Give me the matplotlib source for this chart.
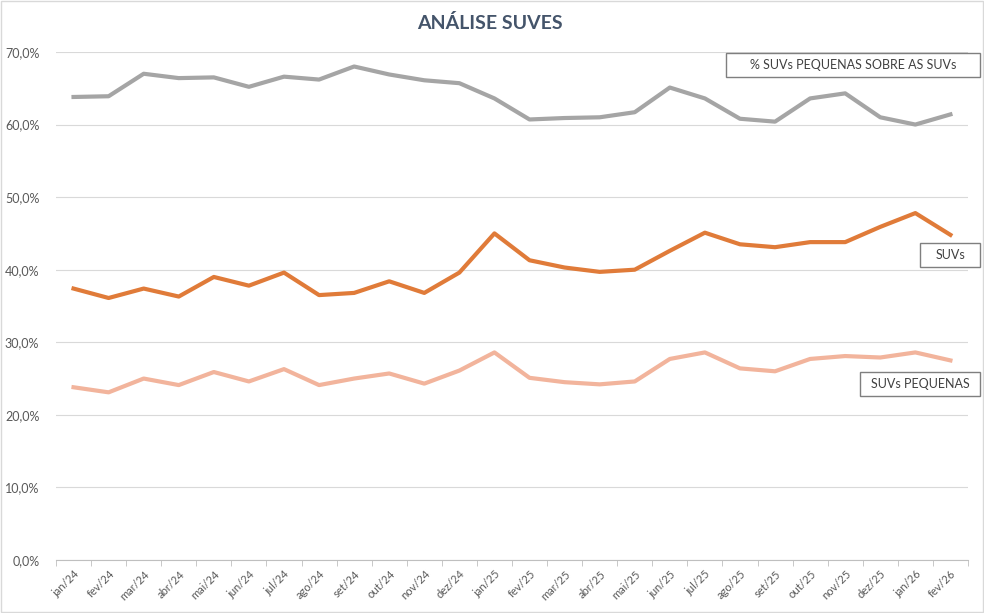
import matplotlib
matplotlib.use("Agg")
import matplotlib.pyplot as plt
from matplotlib.ticker import FuncFormatter
from matplotlib.patches import Rectangle

plt.rcParams['font.family'] = ['Lato', 'DejaVu Sans']

months = ["jan/24", "fev/24", "mar/24", "abr/24", "mai/24", "jun/24", "jul/24", "ago/24",
          "set/24", "out/24", "nov/24", "dez/24", "jan/25", "fev/25", "mar/25", "abr/25",
          "mai/25", "jun/25", "jul/25", "ago/25", "set/25", "out/25", "nov/25", "dez/25",
          "jan/26", "fev/26"]

pct_pequenas_sobre_suvs = [63.8, 63.9, 67.0, 66.4, 66.5, 65.2, 66.6, 66.2, 68.0, 66.9, 66.1, 65.7,
                           63.6, 60.7, 60.9, 61.0, 61.7, 65.1, 63.6, 60.8, 60.4, 63.6, 64.3, 61.0,
                           60.0, 61.4]
suvs = [37.4, 36.1, 37.4, 36.3, 39.0, 37.8, 39.6, 36.5, 36.8, 38.4, 36.8, 39.6,
        45.0, 41.3, 40.3, 39.7, 40.0, 42.6, 45.1, 43.5, 43.1, 43.8, 43.8, 45.9,
        47.8, 44.8]
suvs_pequenas = [23.8, 23.1, 25.0, 24.1, 25.9, 24.6, 26.3, 24.1, 25.0, 25.7, 24.3, 26.1,
                 28.6, 25.1, 24.5, 24.2, 24.6, 27.7, 28.6, 26.4, 26.0, 27.7, 28.1, 27.9,
                 28.6, 27.5]

yticks = [0, 10, 20, 30, 40, 50, 60, 70]

fig = plt.figure(figsize=(9.84, 6.13), dpi=100)
ax = fig.add_axes([0.0569, 0.0865, 0.9268, 0.8287])

x = list(range(len(months)))
ax.plot(x, pct_pequenas_sobre_suvs, color="#A5A5A5", lw=3, solid_joinstyle="round", zorder=3)
ax.plot(x, suvs, color="#E07B39", lw=3, solid_joinstyle="round", zorder=3)
ax.plot(x, suvs_pequenas, color="#F2B49C", lw=3, solid_joinstyle="round", zorder=3)

ax.set_xlim(-0.5, len(months) - 0.5)
ax.set_ylim(0, 70)
ax.set_yticks(yticks)
ax.yaxis.set_major_formatter(FuncFormatter(lambda v, p: f"{v:.1f}".replace(".", ",") + "%"))
ax.grid(axis="y", color="#D9D9D9", lw=0.8, zorder=0)
ax.set_axisbelow(True)

ax.set_xticks(x)
ax.set_xticklabels(months, rotation=45, ha="right", rotation_mode="anchor")
ax.set_xticks([i - 0.5 for i in range(len(months) + 1)], minor=True)
ax.tick_params(axis="x", which="major", length=0, labelsize=8, colors="#595959", pad=6)
ax.tick_params(axis="x", which="minor", length=4, color="#BFBFBF")
ax.tick_params(axis="y", length=0, labelsize=9, colors="#595959", pad=12)

for s in ["top", "right", "left"]:
    ax.spines[s].set_visible(False)
ax.spines["bottom"].set_color("#BFBFBF")

fig.text(0.498, 0.963, "ANÁLISE SUVES", ha="center", va="center",
         fontsize=14, fontweight="bold", color="#44546A")

def label_box(text, x0, y0, x1, y1):
    W, H = 984, 613
    r = Rectangle((x0 / W, 1 - y1 / H), (x1 - x0) / W, (y1 - y0) / H,
                  transform=fig.transFigure, facecolor="white", edgecolor="#7F7F7F",
                  lw=1.0, zorder=5)
    fig.add_artist(r)
    fig.text((x0 + x1) / 2 / W, 1 - (y0 + y1) / 2 / H, text, ha="center", va="center",
             fontsize=9, color="#404040", zorder=6)

label_box("% SUVs PEQUENAS SOBRE AS SUVs", 726, 53, 980, 77)
label_box("SUVs", 920, 243, 980, 267)
label_box("SUVs PEQUENAS", 860, 372, 980, 396)

border = Rectangle((0.001, 0.001), 0.998, 0.998, transform=fig.transFigure,
                   facecolor="none", edgecolor="#D9D9D9", lw=1.0)
fig.add_artist(border)

fig.savefig("out.png", dpi=100)
